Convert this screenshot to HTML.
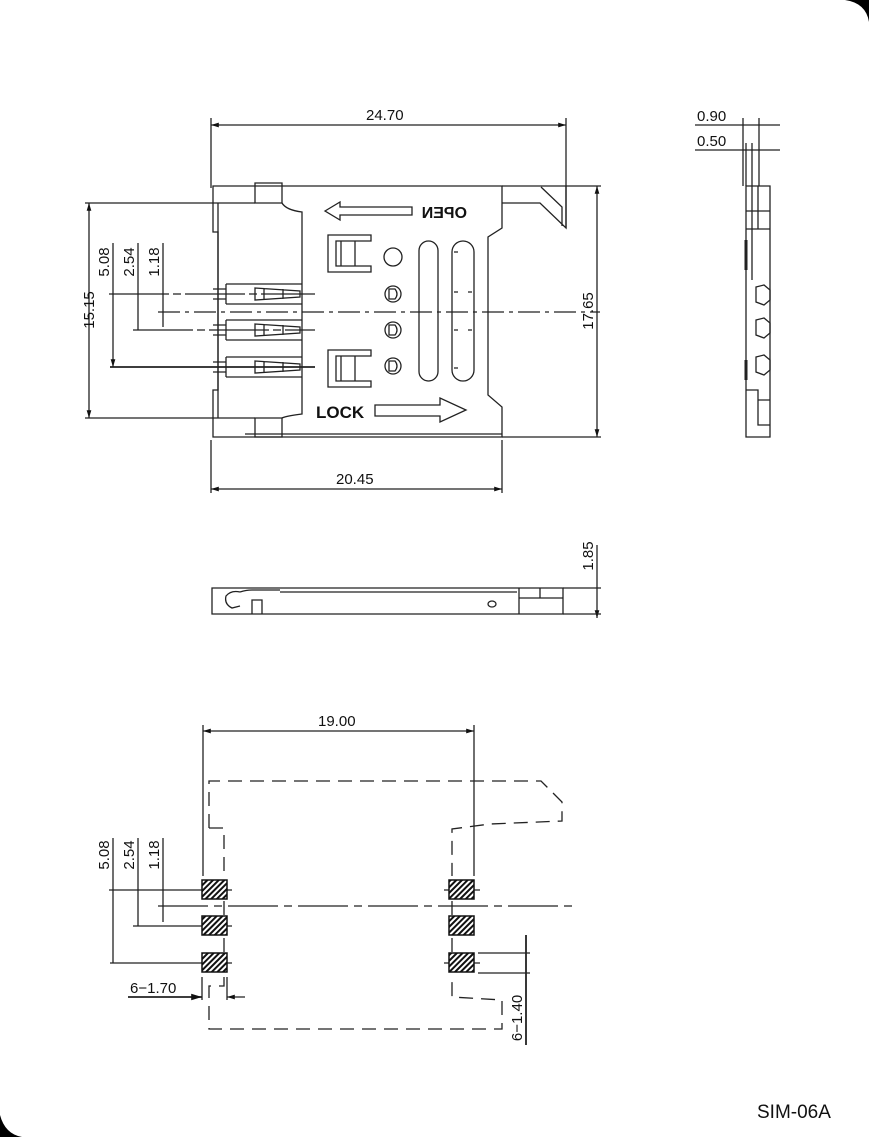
<!DOCTYPE html>
<html><head><meta charset="utf-8"><style>
html,body{margin:0;padding:0;background:#fff;}
svg{display:block;}
text{font-family:"Liberation Sans",sans-serif;fill:#111;}
</style></head><body>
<svg width="869" height="1137" viewBox="0 0 869 1137" xmlns="http://www.w3.org/2000/svg">
<defs>
<pattern id="h" width="4" height="4" patternUnits="userSpaceOnUse" patternTransform="rotate(45)">
<rect width="4" height="4" fill="#fff"/><rect width="2" height="4" fill="#111"/></pattern>
<marker id="a" viewBox="0 0 10 10" refX="10" refY="5" markerWidth="6" markerHeight="6" orient="auto-start-reverse"><path d="M0,2 L10,5 L0,8z" fill="#111"/></marker>
</defs>
<!-- corners -->
<path d="M845,0 L869,0 L869,22 Q866,3 845,0z" fill="#000"/>
<path d="M0,1115 L0,1137 L22,1137 Q5,1134 0,1115z" fill="#000"/>

<g fill="none" stroke="#222" stroke-width="1.3">
<!-- TOP VIEW -->
<line x1="211" y1="125" x2="566" y2="125" marker-start="url(#a)" marker-end="url(#a)"/>
<line x1="211" y1="118" x2="211" y2="188"/><line x1="566" y1="118" x2="566" y2="228"/>
<path d="M213,186 L213,232 L218,232 L218,390 L213,390 L213,437 L502,437 L502,407 L488,395 L488,237 L502,228 L502,186 Z"/>
<line x1="245" y1="434" x2="502" y2="434"/>
<path d="M218,203 L255,203 M218,418 L255,418 M218,203 L218,418"/>
<path d="M255,183 L282,183 L282,203 L255,203 Z M255,418 L282,418 L282,437 L255,437 Z"/>
<path d="M282,203 Q286,210 302,212 L302,414 Q286,416 282,418"/>
<path d="M502,186 L566,186 L566,228 L540,203 L502,203"/>
<path d="M541,187 L562,207 L562,226"/>
<!-- OPEN arrow -->
<path d="M325,211 L340,202 L340,207 L412,207 L412,215 L340,215 L340,220 Z"/>
<!-- latches -->
<path d="M371,235 L328,235 L328,272 L371,272 L371,266 L336,266 L336,241 L371,241 Z M341,241 L341,266 M355,241 L355,266"/>
<path d="M371,350 L328,350 L328,387 L371,387 L371,381 L336,381 L336,356 L371,356 Z M341,356 L341,381 M355,356 L355,381"/>
<circle cx="393" cy="257" r="9"/>
<circle cx="393" cy="294" r="8"/><circle cx="393" cy="330" r="8"/><circle cx="393" cy="366" r="8"/>
<path d="M389,289 L389,299 L395,299 Q399,294 395,289 Z M389,325 L389,335 L395,335 Q399,330 395,325 Z M389,361 L389,371 L395,371 Q399,366 395,361 Z"/>
<rect x="419" y="241" width="19" height="140" rx="9.5"/>
<rect x="452" y="241" width="22" height="140" rx="11"/>
<path d="M454,252 L458,252 M454,292 L458,292 M454,330 L458,330 M454,368 L458,368 M468,292 L472,292 M468,330 L472,330"/>
<!-- LOCK arrow -->
<path d="M375,405 L440,405 L440,398 L466,410 L440,422 L440,416 L375,416 Z"/>
<!-- contacts -->
<g>
<path d="M226,284 L302,284 M226,304 L302,304 M226,284 L226,304 M213,289 L226,289 L226,299 L213,299 M255,288 L300,291 L300,297 L255,300 Z M264,288 L264,300 M283,289 L283,299"/>
<path d="M226,320 L302,320 M226,340 L302,340 M226,320 L226,340 M213,325 L226,325 L226,335 L213,335 M255,324 L300,327 L300,333 L255,336 Z M264,324 L264,336 M283,325 L283,335"/>
<path d="M226,357 L302,357 M226,377 L302,377 M226,357 L226,377 M213,362 L226,362 L226,372 L213,372 M255,361 L300,364 L300,370 L255,373 Z M264,361 L264,373 M283,362 L283,372"/>
</g>
<line x1="158" y1="312" x2="600" y2="312" stroke-dasharray="22,5,4,5"/>
<line x1="109" y1="294" x2="315" y2="294" stroke-dasharray="60,4,8,4"/>
<line x1="133" y1="330" x2="315" y2="330" stroke-dasharray="60,4,8,4"/>
<line x1="110" y1="367" x2="315" y2="367" stroke-width="1.8"/>
<line x1="113" y1="243" x2="113" y2="367" marker-end="url(#a)"/>
<line x1="138" y1="243" x2="138" y2="330"/>
<line x1="163" y1="243" x2="163" y2="327"/>
<!-- 15.15 -->
<line x1="89" y1="203" x2="89" y2="418" marker-start="url(#a)" marker-end="url(#a)"/>
<line x1="85" y1="203" x2="218" y2="203"/><line x1="85" y1="418" x2="218" y2="418"/>
<!-- 17.65 -->
<line x1="597" y1="186" x2="597" y2="437" marker-start="url(#a)" marker-end="url(#a)"/>
<line x1="566" y1="186" x2="601" y2="186"/><line x1="502" y1="437" x2="601" y2="437"/>
<!-- 20.45 -->
<line x1="211" y1="489" x2="502" y2="489" marker-start="url(#a)" marker-end="url(#a)"/>
<line x1="211" y1="440" x2="211" y2="493"/><line x1="502" y1="440" x2="502" y2="493"/>

<!-- SIDE VIEW -->
<path d="M746,186 L770,186 L770,437 L746,437 Z"/>
<path d="M746,211 L770,211 M746,229 L770,229 M758,186 L758,229 M752,186 L752,280"/>
<path d="M746,240 L746,270 M746,360 L746,380" stroke-width="3"/>
<path d="M756,287 L764,285 L770,290 L770,300 L764,305 L756,302 Z M756,320 L764,318 L770,323 L770,333 L764,338 L756,335 Z M756,357 L764,355 L770,360 L770,370 L764,375 L756,372 Z"/>
<path d="M746,390 L758,390 L758,425 L770,425 M758,400 L770,400"/>
<line x1="695" y1="125" x2="780" y2="125"/><line x1="695" y1="150" x2="780" y2="150"/>
<line x1="743" y1="118" x2="743" y2="186"/><line x1="759" y1="118" x2="759" y2="186"/><line x1="746" y1="143" x2="746" y2="186"/><line x1="752" y1="143" x2="752" y2="186"/>

<!-- FRONT VIEW -->
<path d="M212,588 L563,588 L563,614 L212,614 Z"/>
<path d="M519,588 L519,614 M519,598 L563,598 M540,588 L540,598 M280,592 L517,592 M252,614 L252,600 L262,600 L262,614"/>
<path d="M240,592 Q231,590 226,596 Q224,604 232,608 L240,606 M240,592 Q246,590 252,590 L280,590"/>
<ellipse cx="492" cy="604" rx="4" ry="3"/>
<line x1="597" y1="545" x2="597" y2="618" marker-end="url(#a)"/>
<line x1="563" y1="588" x2="601" y2="588"/><line x1="563" y1="614" x2="601" y2="614"/>

<!-- BOTTOM VIEW -->
<line x1="203" y1="731" x2="474" y2="731" marker-start="url(#a)" marker-end="url(#a)"/>
<line x1="203" y1="725" x2="203" y2="876"/><line x1="474" y1="725" x2="474" y2="876"/>
<g stroke-dasharray="14,8">
<path d="M209,828 L209,781 L541,781 L562,802 L562,821 L490,824 L452,829 L452,876"/>
<path d="M209,828 L224,828 L224,876"/>
<path d="M224,977 L224,986 L209,986 L209,1029 L502,1029 L502,1000 L452,997 L452,977"/>
<path d="M224,901 L224,916 M224,938 L224,952 M452,901 L452,916 M452,938 L452,952"/>
</g>
<line x1="158" y1="906" x2="572" y2="906" stroke-dasharray="50,6,8,6"/>
<line x1="109" y1="890" x2="232" y2="890"/><line x1="133" y1="926" x2="232" y2="926"/><line x1="110" y1="963" x2="232" y2="963"/>
<line x1="444" y1="890" x2="480" y2="890"/><line x1="444" y1="963" x2="480" y2="963"/>
<line x1="113" y1="838" x2="113" y2="963"/><line x1="138" y1="838" x2="138" y2="926"/><line x1="163" y1="838" x2="163" y2="922"/>
<line x1="128" y1="997" x2="202" y2="997" stroke-width="1.8" marker-end="url(#a)"/>
<line x1="245" y1="997" x2="227" y2="997" marker-end="url(#a)"/>
<line x1="202" y1="977" x2="202" y2="1000"/><line x1="227" y1="977" x2="227" y2="1000"/>
<line x1="526" y1="935" x2="526" y2="1045" stroke-width="1.8"/>
<line x1="478" y1="953" x2="530" y2="953"/><line x1="478" y1="973" x2="530" y2="973"/>
</g>
<g stroke="#111" stroke-width="1.5" fill="url(#h)">
<rect x="202" y="880" width="25" height="19"/><rect x="202" y="916" width="25" height="19"/><rect x="202" y="953" width="25" height="19"/>
<rect x="449" y="880" width="25" height="19"/><rect x="449" y="916" width="25" height="19"/><rect x="449" y="953" width="25" height="19"/>
</g>

<!-- text -->
<g font-size="15">
<text x="366" y="120">24.70</text>
<text x="336" y="484">20.45</text>
<text x="318" y="726">19.00</text>
<text x="697" y="121">0.90</text>
<text x="697" y="146">0.50</text>
<text transform="translate(94,310) rotate(-90)" text-anchor="middle">15.15</text>
<text transform="translate(593,311) rotate(-90)" text-anchor="middle">17.65</text>
<text transform="translate(593,556) rotate(-90)" text-anchor="middle">1.85</text>
<text transform="translate(109,262) rotate(-90)" text-anchor="middle">5.08</text>
<text transform="translate(134,262) rotate(-90)" text-anchor="middle">2.54</text>
<text transform="translate(159,262) rotate(-90)" text-anchor="middle">1.18</text>
<text transform="translate(109,855) rotate(-90)" text-anchor="middle">5.08</text>
<text transform="translate(134,855) rotate(-90)" text-anchor="middle">2.54</text>
<text transform="translate(159,855) rotate(-90)" text-anchor="middle">1.18</text>
<text x="130" y="993">6−1.70</text>
<text transform="translate(522,1018) rotate(-90)" text-anchor="middle">6−1.40</text>
</g>
<text x="316" y="418" font-size="17" font-weight="bold">LOCK</text>
<text transform="translate(467,218) scale(-1,1)" font-size="16" font-weight="bold">OPEN</text>
<text x="757" y="1118" font-size="19">SIM-06A</text>
</svg>
</body></html>
